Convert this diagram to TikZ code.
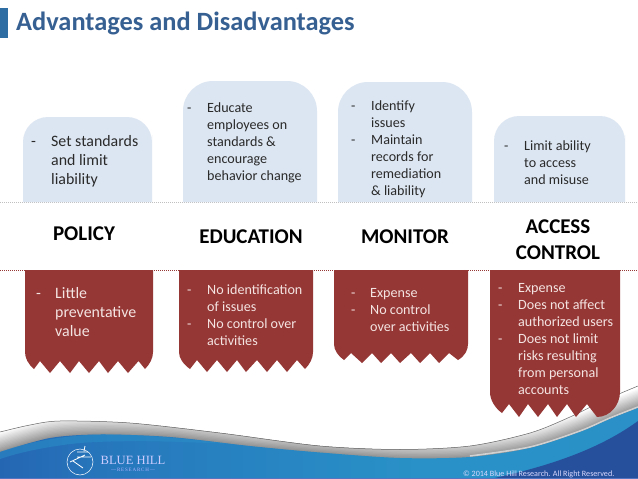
\documentclass[tikz,border=0pt]{standalone}
\usepackage{fontspec}
\setmainfont{Carlito}
\newfontfamily\logofont{Liberation Serif}
\definecolor{boxblue}{HTML}{DCE6F2}
\definecolor{boxred}{HTML}{953735}
\definecolor{titleblue}{HTML}{376092}
\definecolor{barblue}{HTML}{2E6DA4}
\definecolor{lighttext}{HTML}{F4E4E2}
\definecolor{darktext}{HTML}{2A2A2A}
\definecolor{wavenavy}{HTML}{27509C}
\definecolor{wavelight}{HTML}{2B8FC8}
\pgfdeclarehorizontalshading{wavefill}{100bp}{
 rgb(0bp)=(0.14,0.27,0.60); rgb(16bp)=(0.14,0.33,0.66); rgb(34bp)=(0.15,0.47,0.74);
 rgb(58bp)=(0.16,0.57,0.78); rgb(100bp)=(0.17,0.56,0.78)}
\tikzset{
 x=1pt,y=-1pt,
 bluebox/.style={fill=boxblue,draw=none},
 redbox/.style={fill=boxred,draw=none},
 dk/.style={inner sep=0pt,anchor=north west,align=left,text=darktext,font=\fontsize{14.1}{17}\selectfont},
 lt/.style={dk,text=lighttext},
 wide/.style={font=\fontsize{15.9}{19}\selectfont},
 headlabel/.style={inner sep=0pt,align=center,text=black,font=\bfseries\fontsize{21}{26}\selectfont},
}
\begin{document}
\begin{tikzpicture}
\useasboundingbox (0,0) rectangle (638,479);
\fill[white] (0,0) rectangle (638,479);
% footer
\begin{scope}
 \clip plot[smooth] coordinates {(0,432) (30,425) (60,421) (130,423) (220,433) (320,446) (400,449.5) (470,446) (530,433) (570,417) (605,400) (638,386)} -- (638,479) -- (0,479) -- cycle;
 \foreach \i in {15,14,...,0}{
  \pgfmathsetmacro{\shadev}{(15-\i)*2.9}
  \pgfmathsetmacro{\sh}{\i*1.35}
  \fill[black!\shadev,yshift=\sh pt] plot[smooth] coordinates {(0,452) (50,438) (100,434.5) (170,437) (250,446) (320,452.5) (400,458) (470,457) (530,448) (580,432) (610,419) (638,408)} -- (638,479) -- (0,479) -- cycle;
 }
\end{scope}
\draw[black!60,line width=.5pt] plot[smooth] coordinates {(0,432) (30,425) (60,421) (130,423) (220,433) (320,446) (400,449.5) (470,446) (530,433) (570,417) (605,400) (638,386)};
\draw[white,opacity=.55,line width=1.6pt] plot[smooth] coordinates {(470,456) (530,447) (580,431) (610,418) (638,407)};
\shade[shading=wavefill] plot[smooth] coordinates {(0,452) (50,438) (100,434.5) (170,437) (250,446) (320,452.5) (400,458) (470,457) (530,448) (580,432) (610,419) (638,408)} -- (638,479) -- (0,479) -- cycle;
\fill[wavelight,opacity=.55] (0,452) .. controls (30,441) and (70,435) .. (100,434.5) .. controls (140,434) and (180,438) .. (230,444) .. controls (170,441) and (120,440) .. (80,443) .. controls (50,446) and (20,452) .. (0,459) -- cycle;
\fill[wavenavy] (638,421) .. controls (605,445) and (560,464) .. (490,479) -- (638,479) -- cycle;
\fill[white!55!cyan!50!blue] (0,478) rectangle (638,479);
% logo
\draw[white,line width=.5pt] (80,462) circle (13);
\draw[white,line width=.8pt] (70,462) -- (85,455) (73,461) -- (83,468) (77,457) -- (91,457) (77,452) -- (88,452) (85,446) -- (84,451);
\node[name=logotext,inner sep=0pt,text=white!80!blue,font=\logofont\fontsize{12.6}{13}\selectfont] at (133,460) {BLUE HILL};
\node[name=logosub,inner sep=0pt,text=white!70!blue,font=\logofont\fontsize{5}{6}\selectfont] at (133,469.5) {—\,R\,E\,S\,E\,A\,R\,C\,H\,—};
\node[name=copyr,inner sep=0pt,anchor=east,text=white!85!blue,font=\fontsize{8.1}{9}\selectfont] at (614.5,474) {© 2014 Blue Hill Research. All Right Reserved.};
% title
\fill[barblue] (0,8) rectangle (8,38);
\node[name=title,inner sep=0pt,anchor=west,text=titleblue,font=\bfseries\fontsize{26.4}{30}\selectfont] at (16,23) {Advantages and Disadvantages};
% dotted rules
\draw[black!25,line width=1pt,dash pattern=on 1pt off 1pt] (0,202) -- (638,202);
\draw[boxred,line width=1pt,dash pattern=on 1pt off 1pt] (0,270.5) -- (638,270.5);
% upper boxes
\fill[bluebox,rounded corners=25pt] (23,202) [sharp corners] -- (23,160) [rounded corners=25pt] -- (23,117) -- (152,117) -- (152,160) [sharp corners] -- (152,202) -- cycle;
\fill[bluebox,rounded corners=30pt] (183,202) [sharp corners] -- (183,150) [rounded corners=30pt] -- (183,81) -- (317,81) -- (317,150) [sharp corners] -- (317,202) -- cycle;
\fill[bluebox,rounded corners=30pt] (338,202) [sharp corners] -- (338,150) [rounded corners=30pt] -- (338,82) -- (472,82) -- (472,150) [sharp corners] -- (472,202) -- cycle;
\fill[bluebox,rounded corners=25pt] (494,202) [sharp corners] -- (494,160) [rounded corners=25pt] -- (494,116) -- (625,116) -- (625,160) [sharp corners] -- (625,202) -- cycle;
% lower boxes
\fill[redbox] (25,270) -- (153,270) -- (153,352) .. controls (153,358) and (150,364) .. (145,369) -- (138.5,361) -- (128,373) -- (118,361) -- (108,373) -- (99,361) -- (89,373) -- (79,361) -- (70,373) -- (60,361) -- (50,373) -- (40,361) -- (34,369) .. controls (28,364) and (25,358) .. (25,352) -- cycle;
\fill[redbox] (179,270) -- (313,270) -- (313,352) .. controls (313,358) and (310,364) .. (305,369) -- (297,360) -- (287,372) -- (277,360) -- (267,372) -- (257,360) -- (246,372) -- (237,360) -- (227,372) -- (217,360) -- (207,372) -- (197,360) -- (190,369) .. controls (183,364) and (179,358) .. (179,352) -- cycle;
\fill[redbox] (334,270) -- (468,270) -- (468,344) .. controls (468,350) and (465,356) .. (458,360) -- (449,353) -- (439,363) -- (430,353) -- (420,363) -- (411,353) -- (400,363) -- (391,353) -- (381,363) -- (372,353) -- (362,363) -- (351,353) -- (344,360) .. controls (338,356) and (334,350) .. (334,344) -- cycle;
\fill[redbox] (490,270) -- (620,270) -- (620,392) .. controls (620,405) and (610,417) .. (597,417) -- (587,404) -- (576,417) -- (567,404) -- (557,417) -- (548,404) -- (538,417) -- (528,404) -- (519,417) -- (509,404) -- (502,413) .. controls (495,408) and (490,400) .. (490,392) -- cycle;
% headings
\node[headlabel,name=hpolicy] at (84,234) {POLICY};
\node[headlabel,name=heducation] at (251,237) {EDUCATION};
\node[headlabel,name=hmonitor] at (405,237) {MONITOR};
\node[headlabel,name=haccess] at (558,240) {ACCESS\\CONTROL};
% upper text
\node[dk,wide,name=d1] at (31,133) {\strut-};
\node[dk,wide,name=t1] at (51,133) {\strut Set standards\\and limit\\liability};
\node[dk,name=d2] at (187,100) {\strut-};
\node[dk,name=t2] at (207,100) {\strut Educate\\employees on\\standards \&\\encourage\\behavior change};
\node[dk,name=d3a] at (351,98) {\strut-};
\node[dk,name=t3a] at (371,98) {\strut Identify\\issues};
\node[dk,name=d3b] at (351,132) {\strut-};
\node[dk,name=t3b] at (371,132) {\strut Maintain\\records for\\remediation\\\& liability};
\node[dk,name=d4] at (504,138.5) {\strut-};
\node[dk,name=t4] at (524,138.5) {\strut Limit ability\\to access\\and misuse};
% lower text
\node[lt,wide,name=r1d] at (36,285) {\strut-};
\node[lt,wide,name=r1t] at (55,285) {\strut Little\\preventative\\value};
\node[lt,name=r2d] at (187,282.5) {\strut-};
\node[lt,name=r2t] at (207,282.5) {\strut No identification\\of issues};
\node[lt,name=r2e] at (187,316.5) {\strut-};
\node[lt,name=r2u] at (207,316.5) {\strut No control over\\activities};
\node[lt,name=r3d] at (351,285.5) {\strut-};
\node[lt,name=r3t] at (370,285.5) {\strut Expense};
\node[lt,name=r3e] at (351,302.5) {\strut-};
\node[lt,name=r3u] at (370,302.5) {\strut No control\\over activities};
\node[lt,name=r4d] at (498,280.5) {\strut-};
\node[lt,name=r4t] at (518,280.5) {\strut Expense};
\node[lt,name=r4e] at (498,297.5) {\strut-};
\node[lt,name=r4u] at (518,297.5) {\strut Does not affect\\authorized users};
\node[lt,name=r4f] at (498,331.5) {\strut-};
\node[lt,name=r4v] at (518,331.5) {\strut Does not limit\\risks resulting\\from personal\\accounts};
\end{tikzpicture}
\end{document}
